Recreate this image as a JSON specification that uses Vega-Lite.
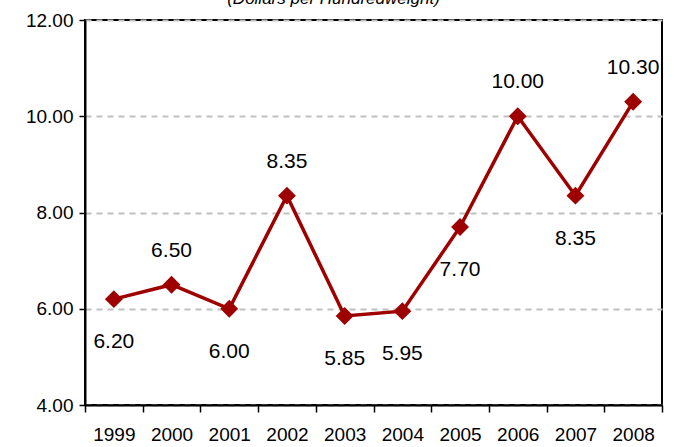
{
  "$schema": "https://vega.github.io/schema/vega-lite/v6.json",
  "width": 577,
  "height": 385,
  "autosize": {"type": "none"},
  "padding": {"left": 85, "top": 20, "right": 13, "bottom": 42},
  "background": "white",
  "title": {
    "text": "(Dollars per Hundredweight)",
    "font": "Liberation Sans",
    "fontSize": 17,
    "fontStyle": "italic",
    "fontWeight": "normal",
    "color": "black",
    "anchor": "middle",
    "dx": -40,
    "offset": -10,
    "baseline": "alphabetic"
  },
  "config": {
    "view": {"stroke": "black", "strokeWidth": 2},
    "font": "Liberation Sans"
  },
  "data": {
    "values": [
      {"year": "1999", "price": 6.20, "pos": "below"},
      {"year": "2000", "price": 6.50, "pos": "above"},
      {"year": "2001", "price": 6.00, "pos": "below"},
      {"year": "2002", "price": 8.35, "pos": "above"},
      {"year": "2003", "price": 5.85, "pos": "below"},
      {"year": "2004", "price": 5.95, "pos": "below"},
      {"year": "2005", "price": 7.70, "pos": "below"},
      {"year": "2006", "price": 10.00, "pos": "above"},
      {"year": "2007", "price": 8.35, "pos": "below"},
      {"year": "2008", "price": 10.30, "pos": "above"}
    ]
  },
  "encoding": {
    "x": {
      "field": "year",
      "type": "ordinal",
      "scale": {"paddingInner": 0, "paddingOuter": 0},
      "axis": {
        "title": null,
        "labelAngle": 0,
        "labelFontSize": 19,
        "labelColor": "black",
        "labelPadding": 13,
        "tickBand": "extent",
        "tickSize": 7,
        "tickColor": "black",
        "tickWidth": 1.5,
        "domainColor": "black",
        "domainWidth": 2,
        "grid": false
      }
    },
    "y": {
      "field": "price",
      "type": "quantitative",
      "scale": {"domain": [4, 12], "nice": false, "zero": false},
      "axis": {
        "title": null,
        "values": [4, 6, 8, 10, 12],
        "format": ".2f",
        "labelFontSize": 19,
        "labelColor": "black",
        "labelPadding": 6,
        "tickSize": 6,
        "tickColor": "black",
        "tickWidth": 1.5,
        "domainColor": "black",
        "domainWidth": 2,
        "grid": true,
        "gridColor": "#c0c0c0",
        "gridWidth": 2,
        "gridDash": [6, 5]
      }
    }
  },
  "layer": [
    {
      "mark": {"type": "line", "color": "#9e0000", "strokeWidth": 3.5}
    },
    {
      "mark": {"type": "point", "shape": "diamond", "filled": true, "color": "#9e0000", "size": 320, "opacity": 1}
    },
    {
      "transform": [{"filter": "datum.pos === 'above'"}],
      "mark": {"type": "text", "dy": -34, "fontSize": 21, "color": "black", "baseline": "middle"},
      "encoding": {"text": {"field": "price", "type": "quantitative", "format": ".2f"}}
    },
    {
      "transform": [{"filter": "datum.pos === 'below'"}],
      "mark": {"type": "text", "dy": 43, "fontSize": 21, "color": "black", "baseline": "middle"},
      "encoding": {"text": {"field": "price", "type": "quantitative", "format": ".2f"}}
    }
  ]
}
